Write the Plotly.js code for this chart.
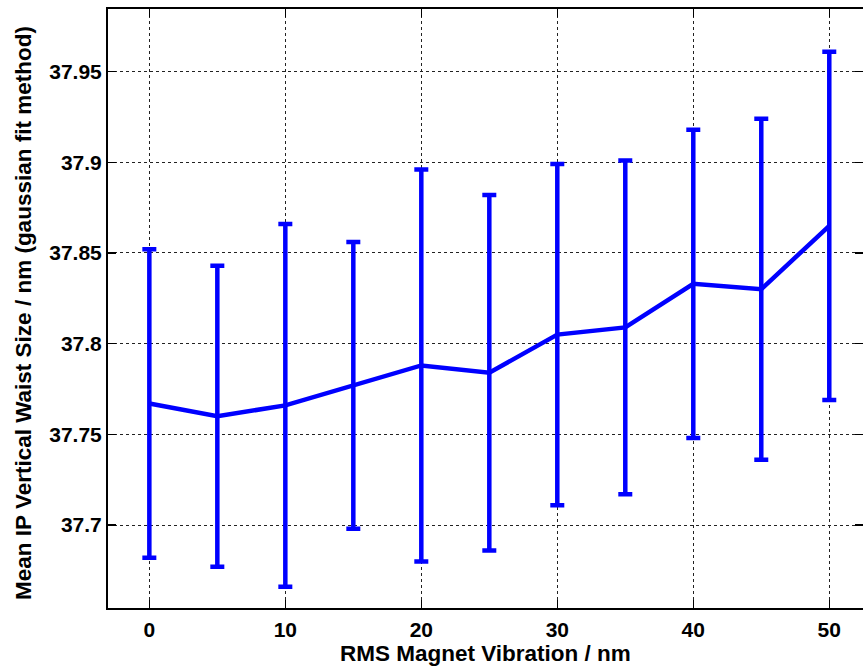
<!DOCTYPE html>
<html>
<head>
<meta charset="utf-8">
<script src="https://cdn.plot.ly/plotly-3.0.1.min.js"></script>
<style>html,body{margin:0;padding:0;background:#fff;}#chart{width:863px;height:667px;}</style>
</head>
<body>
<div id="chart"></div>
<script>
// Data
const vibration = [0, 5, 10, 15, 20, 25, 30, 35, 40, 45, 50];
const meanWaist = [37.767, 37.760, 37.766, 37.777, 37.788, 37.784, 37.805, 37.809, 37.833, 37.830, 37.865];
const errWaist  = [0.085, 0.083, 0.100, 0.079, 0.108, 0.098, 0.094, 0.092, 0.085, 0.094, 0.096];
const xTicks = [0, 10, 20, 30, 40, 50];
const yTicks = [37.7, 37.75, 37.8, 37.85, 37.9, 37.95];
const yTickText = ['37.7', '37.75', '37.8', '37.85', '37.9', '37.95'];
const xTitle = 'RMS Magnet Vibration / nm';
const yTitle = 'Mean IP Vertical Waist Size / nm (gaussian fit method)';

const fam = '"Liberation Sans", Arial, sans-serif';
const tickFont = {family: fam, size: 21, color: '#000', weight: 'bold'};
const titleFont = {family: fam, size: 22.5, color: '#000', weight: 'bold'};

const trace = {
  x: vibration,
  y: meanWaist,
  type: 'scatter',
  mode: 'lines',
  line: {color: '#0000ff', width: 4.5},
  error_y: {type: 'data', array: errWaist, visible: true, color: '#0000ff', thickness: 4.5, width: 7},
  hoverinfo: 'skip'
};

const axisCommon = {
  ticks: 'inside', ticklen: 8, tickwidth: 1.2, tickcolor: '#000',
  showline: true, linecolor: '#000', linewidth: 2, mirror: 'ticks',
  showgrid: true, gridcolor: '#222', gridwidth: 1, griddash: '3px,3px',
  zeroline: false, tickfont: tickFont
};

const layout = {
  width: 863, height: 667,
  margin: {l: 108, r: 0, t: 9, b: 59, pad: 0},
  paper_bgcolor: '#fff', plot_bgcolor: '#fff',
  showlegend: false,
  font: {family: fam, color: '#000'},
  xaxis: Object.assign({}, axisCommon, {
    range: [-3.04, 52.48],
    tickvals: xTicks, ticktext: xTicks.map(String),
    ticklabelstandoff: 2
  }),
  yaxis: Object.assign({}, axisCommon, {
    range: [37.6543, 37.9845],
    tickvals: yTicks, ticktext: yTickText,
    ticklabelstandoff: 0
  }),
  annotations: [{
    text: xTitle, xref: 'paper', yref: 'paper', x: 0.5, y: 0, yshift: -45,
    xanchor: 'center', yanchor: 'middle', showarrow: false, font: titleFont
  }, {
    text: yTitle, xref: 'paper', yref: 'paper', x: 0, y: 0.4925, xshift: -84,
    xanchor: 'center', yanchor: 'middle', textangle: -90, showarrow: false, font: titleFont
  }]
};

Plotly.newPlot('chart', [trace], layout, {displayModeBar: false, staticPlot: true});
</script>
</body>
</html>
